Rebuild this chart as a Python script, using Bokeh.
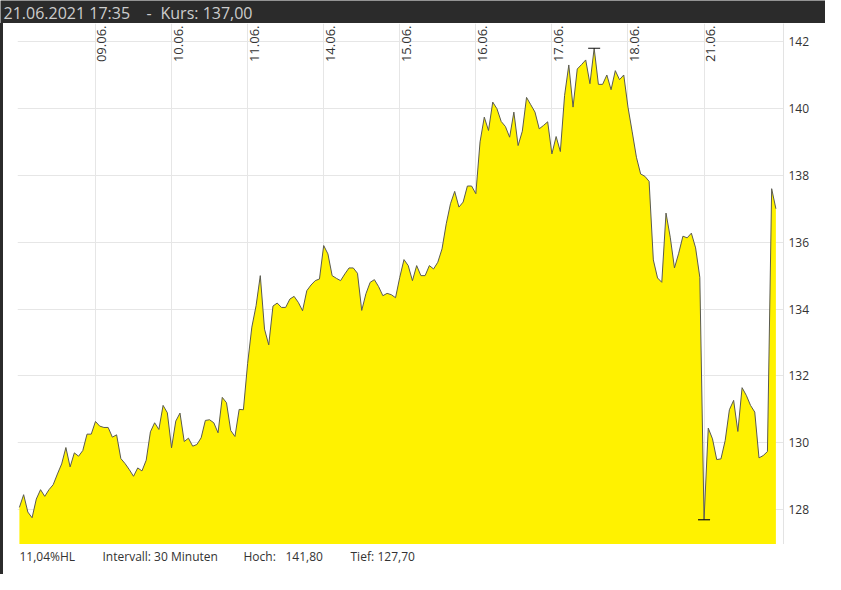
import numpy as np
from bokeh.plotting import figure
from bokeh.models import FixedTicker, ColumnDataSource, Div
from bokeh.layouts import column, row
from bokeh.core.properties import value
from bokeh.embed import file_html
from bokeh.resources import INLINE

# ---- data (30-minute closes, 18 per trading day) ----
day_labels = ["08.06.", "09.06.", "10.06.", "11.06.", "14.06.", "15.06.", "16.06.", "17.06.", "18.06.", "21.06."]
d0806 = [128.07, 128.45, 127.93, 127.76, 128.32, 128.60, 128.40, 128.60, 128.75, 129.07, 129.37, 129.86, 129.28, 129.70, 129.60, 129.77, 130.26, 130.26]
d0906 = [130.64, 130.50, 130.46, 130.46, 130.17, 130.24, 129.53, 129.38, 129.20, 129.00, 129.25, 129.16, 129.48, 130.33, 130.60, 130.40, 131.12, 130.90]
d1006 = [129.85, 130.65, 130.89, 130.04, 130.14, 129.90, 129.95, 130.15, 130.67, 130.69, 130.60, 130.30, 131.36, 131.20, 130.37, 130.19, 131.00, 130.99]
d1106 = [132.37, 133.46, 134.10, 135.00, 133.40, 132.93, 134.09, 134.18, 134.05, 134.05, 134.30, 134.38, 134.20, 133.95, 134.55, 134.72, 134.85, 134.90]
d1406 = [135.90, 135.65, 135.00, 134.92, 134.85, 135.05, 135.23, 135.23, 135.07, 133.96, 134.46, 134.80, 134.88, 134.67, 134.40, 134.47, 134.43, 134.34]
d1506 = [134.95, 135.48, 135.30, 134.85, 135.30, 135.00, 135.00, 135.30, 135.20, 135.40, 135.80, 136.55, 137.15, 137.52, 137.05, 137.20, 137.68, 137.68]
d1606 = [137.45, 139.00, 139.74, 139.34, 140.19, 139.99, 139.61, 139.46, 139.14, 139.89, 138.89, 139.32, 140.33, 140.11, 139.89, 139.39, 139.49, 139.60]
d1706 = [138.64, 139.16, 138.71, 140.39, 141.30, 140.04, 141.18, 141.31, 141.45, 140.74, 141.80, 140.72, 140.72, 141.00, 140.56, 141.13, 140.86, 141.00]
d1806 = [140.04, 139.30, 138.54, 138.04, 137.97, 137.82, 135.47, 134.93, 134.80, 136.87, 136.15, 135.23, 135.67, 136.18, 136.13, 136.27, 135.83, 134.95]
d2106 = [127.70, 130.44, 130.12, 129.50, 129.52, 130.07, 130.99, 131.27, 130.34, 131.65, 131.42, 131.12, 130.92, 129.55, 129.62, 129.74, 137.60, 137.00]
days = [d0806, d0906, d1006, d1106, d1406, d1506, d1606, d1706, d1806, d2106]
y_ticks = [128, 130, 132, 134, 136, 138, 140, 142]
header_date = "21.06.2021 17:35"
interval_text = "Intervall: 30 Minuten"

prices = np.array([v for d in days for v in d])
idx = np.arange(len(prices))
day_start = np.cumsum([0] + [len(d) for d in days[:-1]])

hi_i, lo_i = int(np.argmax(prices)), int(np.argmin(prices))
hi_v, lo_v = prices[hi_i], prices[lo_i]
hl_pct = (hi_v - lo_v) / lo_v * 100
last_v = prices[-1]


def de(v, nd=2):
    return f"{v:.{nd}f}".replace(".", ",")


FONT = value("Open Sans")
DARK = "#2b2b2b"
y_lo, y_hi = 126.96, 142.54

# ---------------- header ----------------
hdr = figure(width=825, height=23, output_backend="svg", toolbar_location=None,
             x_range=(0, 825), y_range=(0, 23), x_axis_location=None, y_axis_location=None,
             min_border=0)
hdr.outline_line_color = None
hdr.grid.visible = False
hdr.background_fill_color = DARK
hdr.border_fill_color = DARK
hsrc = ColumnDataSource(dict(x=[3, 146, 160], y=[11, 11, 11],
                             t=[header_date, "-", "Kurs: " + de(last_v)]))
hdr.text(x="x", y="y", text="t", source=hsrc, text_font=FONT, text_font_size="16px",
         text_color="#cdcdcd", text_baseline="middle", text_align="left")

# ---------------- main chart ----------------
p = figure(width=822, height=521, output_backend="svg", toolbar_location=None,
           x_range=(-0.45, 180.8), y_range=(y_lo, y_hi),
           x_axis_location=None, y_axis_location="right",
           min_border_left=14, min_border_right=42, min_border_top=0, min_border_bottom=0)
p.outline_line_color = None
p.background_fill_color = "white"
p.border_fill_color = "white"

p.xgrid.ticker = FixedTicker(ticks=list(day_start[1:]))
p.ygrid.ticker = FixedTicker(ticks=y_ticks)
for g in (p.xgrid, p.ygrid):
    g.grid_line_color = "#e6e6e6"
    g.grid_line_width = 1

ax = p.yaxis[0]
ax.ticker = FixedTicker(ticks=y_ticks)
ax.axis_line_color = "#e3e3e3"
ax.major_tick_line_color = None
ax.minor_tick_line_color = None
ax.major_tick_out = 0
ax.major_label_standoff = 5
ax.major_label_text_font = "Open Sans"
ax.major_label_text_font_size = "12px"
ax.major_label_text_color = "#333333"

src = ColumnDataSource(dict(x=idx, y=prices))
p.varea(x="x", y1=y_lo, y2="y", source=src, fill_color="#fff200")
p.line(x="x", y="y", source=src, line_color="#5a5a50", line_width=1)

# high / low markers
p.scatter(x=[hi_i, lo_i], y=[hi_v, lo_v], marker="dash", size=12,
          line_color="#111111", line_width=1.2)

# day labels along the top
lab_src = ColumnDataSource(dict(x=day_start[1:], y=[y_hi] * (len(days) - 1), t=day_labels[1:]))
p.text(x="x", y="y", text="t", source=lab_src, angle=np.pi / 2,
       text_align="right", text_baseline="top", x_offset=2, y_offset=2,
       text_font=FONT, text_font_size="13px", text_color="#333333")

# ---------------- footer (frame aligned with chart frame: page x 17..783) ----------------
ftr = figure(width=822, height=30, output_backend="svg", toolbar_location=None,
             x_range=(17, 783), y_range=(0, 30), x_axis_location=None, y_axis_location=None,
             min_border_left=14, min_border_right=42, min_border_top=0, min_border_bottom=0)
ftr.outline_line_color = None
ftr.grid.visible = False
ftr.background_fill_color = "white"
ftr.border_fill_color = "white"
fsrc = ColumnDataSource(dict(
    x=[19, 102, 243, 285, 350, 377],
    y=[18] * 6,
    t=[de(hl_pct) + "%HL", interval_text, "Hoch:", de(hi_v), "Tief:", de(lo_v)]))
ftr.text(x="x", y="y", text="t", source=fsrc, text_font=FONT, text_font_size="12px",
         text_color="#333333", text_baseline="middle", text_align="left")

strip = Div(text="", width=3, height=551, margin=0,
            styles={"background-color": DARK})

layout = column(hdr, row(strip, column(p, ftr, spacing=0), spacing=0), spacing=0)

open("out.html", "w").write(file_html(layout, INLINE))
